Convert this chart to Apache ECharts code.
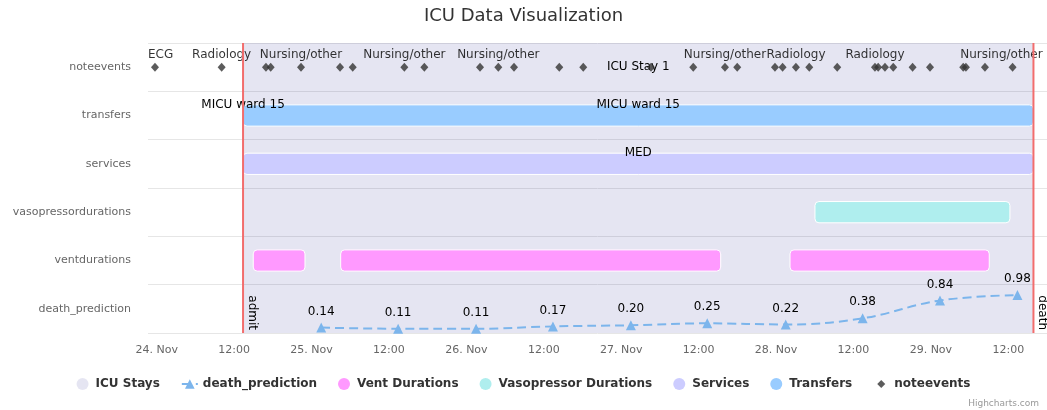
<!DOCTYPE html>
<html lang="en">
  <head>
    <meta charset="UTF-8" />
    <title>ICU Data Visualization</title>
    <script src="https://cdn.jsdelivr.net/npm/echarts@6/dist/echarts.min.js"></script>
    <style>
      html, body { margin: 0; padding: 0; background: #fff; }
      #main { width: 1047px; height: 410px; }
    </style>
  </head>
  <body>
    <div id="main"></div>
    <script>
      // rows of the chart, top to bottom
      var categories = ["noteevents", "transfers", "services", "vasopressordurations", "ventdurations", "death_prediction"];

      var admitTime = "2023-11-24 13:23";
      var deathTime = "2023-11-29 15:54";
      var plotLineTimes = [admitTime, deathTime];
      var plotLineLabels = ["admit", "death"];

      // [start, end, label]
      var icuStays = [[admitTime, deathTime, "ICU Stay 1"]];
      var transfers = [[admitTime, admitTime, "MICU ward 15"], [admitTime, deathTime, "MICU ward 15"]];
      var services = [[admitTime, deathTime, "MED"]];
      var vasoDurations = [["2023-11-28 06:02", "2023-11-29 12:15", ""]];
      var ventDurations = [
        ["2023-11-24 14:58", "2023-11-24 22:59", ""],
        ["2023-11-25 04:31", "2023-11-27 15:25", ""],
        ["2023-11-28 02:10", "2023-11-29 09:03", ""]
      ];

      var predTimes = ["2023-11-25 01:30", "2023-11-25 13:25", "2023-11-26 01:30", "2023-11-26 13:25", "2023-11-27 01:30",
        "2023-11-27 13:20", "2023-11-28 01:30", "2023-11-28 13:25", "2023-11-29 01:25", "2023-11-29 13:25"];
      var predValues = [0.14, 0.11, 0.11, 0.17, 0.20, 0.25, 0.22, 0.38, 0.84, 0.98];

      var noteTimes = ["2023-11-23 23:44", "2023-11-24 10:04", "2023-11-24 16:56", "2023-11-24 17:40", "2023-11-24 22:22",
        "2023-11-25 04:25", "2023-11-25 06:23", "2023-11-25 14:23", "2023-11-25 17:29", "2023-11-26 02:07",
        "2023-11-26 04:57", "2023-11-26 07:23", "2023-11-26 14:24", "2023-11-26 18:07", "2023-11-27 04:37",
        "2023-11-27 11:10", "2023-11-27 16:05", "2023-11-27 17:59", "2023-11-27 23:50", "2023-11-28 01:01",
        "2023-11-28 03:05", "2023-11-28 05:09", "2023-11-28 09:29", "2023-11-28 15:20", "2023-11-28 15:50",
        "2023-11-28 16:53", "2023-11-28 18:10", "2023-11-28 21:10", "2023-11-28 23:52", "2023-11-29 05:01",
        "2023-11-29 05:26", "2023-11-29 08:23", "2023-11-29 12:40"];
      var noteLabels = ["ECG", "Radiology", "", "", "Nursing/other",
        "", "", "Nursing/other", "", "",
        "Nursing/other", "", "", "", "",
        "", "Nursing/other", "", "", "",
        "Radiology", "", "", "Radiology", "",
        "", "", "", "", "",
        "", "", "Nursing/other"];

      var xTicks = ["2023-11-24 00:00", "2023-11-24 12:00", "2023-11-25 00:00", "2023-11-25 12:00", "2023-11-26 00:00",
        "2023-11-26 12:00", "2023-11-27 00:00", "2023-11-27 12:00", "2023-11-28 00:00", "2023-11-28 12:00",
        "2023-11-29 00:00", "2023-11-29 12:00"];
      var xMin = "2023-11-23 22:39";
      var xMax = "2023-11-29 18:00";

      var FONT = "DejaVu Sans";

      function ts(s) {
        return new Date(s.replace(" ", "T")).getTime();
      }

      var tickValues = xTicks.map(ts);

      function fmtTick(v) {
        var d = new Date(v);
        if (d.getHours() === 0) return d.getDate() + ". Nov";
        return (d.getHours() < 10 ? "0" : "") + d.getHours() + ":00";
      }

      function rangeData(rows, cat) {
        var idx = categories.indexOf(cat);
        return rows.map(function (r) {
          return [ts(r[0]), ts(r[1]), idx];
        });
      }

      // 画圆角条
      function barRenderer(rows) {
        return function (params, api) {
          var p0 = api.coord([api.value(0), api.value(2)]);
          var p1 = api.coord([api.value(1), api.value(2)]);
          var h = api.size([0, 1])[1] * 0.44;
          var children = [];
          if (p1[0] > p0[0]) {
            children.push({
              type: "rect",
              shape: { x: p0[0], y: p0[1] - h / 2, width: p1[0] - p0[0], height: h, r: 4 },
              style: { fill: api.visual("color"), stroke: "#fff", lineWidth: 1 }
            });
          }
          var text = rows[params.dataIndex][2];
          if (text) {
            children.push({
              type: "text",
              x: (p0[0] + p1[0]) / 2,
              y: p0[1] - h / 2,
              z2: 10,
              style: { text: text, align: "center", verticalAlign: "middle", fill: "#000", font: "12px " + FONT }
            });
          }
          return { type: "group", children: children };
        };
      }

      var noteData = noteTimes.map(function (t, i) {
        var item = { value: [ts(t), "noteevents"], name: noteLabels[i] };
        if (i === 0) item.label = { align: "left", offset: [-7, 0] };
        if (i === noteTimes.length - 1) item.label = { align: "right", offset: [30, 0] };
        return item;
      });

      var predData = predTimes.map(function (t, i) {
        return [ts(t), predValues[i]];
      });

      var myChart = echarts.init(document.getElementById("main"));
      var option = {
        animation: false,
        textStyle: { fontFamily: FONT },
        title: {
          text: "ICU Data Visualization",
          left: "center",
          top: 2,
          textStyle: { fontSize: 18, fontWeight: "normal", color: "#333", fontFamily: FONT }
        },
        legend: {
          bottom: 15,
          left: "center",
          itemWidth: 16,
          itemHeight: 12,
          itemGap: 21,
          textStyle: { fontSize: 12, fontWeight: "bold", color: "#333", fontFamily: FONT },
          data: [
            { name: "ICU Stays", icon: "circle" },
            { name: "death_prediction" },
            { name: "Vent Durations", icon: "circle" },
            { name: "Vasopressor Durations", icon: "circle" },
            { name: "Services", icon: "circle" },
            { name: "Transfers", icon: "circle" },
            // 小菱形，后两段只是撑开边框
            { name: "noteevents", icon: "path://M8,2L12,6L8,10L4,6Z M0,0L0,0 M16,12L16,12" }
          ]
        },
        graphic: [
          {
            type: "text",
            right: 8,
            bottom: 2,
            style: { text: "Highcharts.com", fontSize: 9, fill: "#999", fontFamily: FONT }
          }
        ],
        grid: [
          { left: 148, right: 0, top: 43, height: 290 },
          { left: 148, right: 0, top: 285, height: 48 }
        ],
        xAxis: [
          {
            type: "value",
            gridIndex: 0,
            min: ts(xMin),
            max: ts(xMax),
            axisLine: { lineStyle: { color: "#ccd6eb" } },
            axisTick: { length: 10, lineStyle: { color: "#ccd6eb" }, customValues: tickValues },
            axisLabel: { color: "#666", fontSize: 11, margin: 12, customValues: tickValues, formatter: fmtTick },
            splitLine: { show: false }
          },
          { type: "value", gridIndex: 1, min: ts(xMin), max: ts(xMax), show: false }
        ],
        yAxis: [
          {
            type: "category",
            gridIndex: 0,
            inverse: true,
            data: categories,
            axisLine: { show: false },
            axisTick: { show: false },
            axisLabel: { color: "#666", fontSize: 11, margin: 17 },
            splitLine: { show: true, lineStyle: { color: "#e6e6e6" } }
          },
          { type: "value", gridIndex: 1, min: 0, max: 1.24, show: false }
        ],
        series: [
          {
            name: "ICU Stays",
            type: "custom",
            z: 1,
            itemStyle: { color: "rgba(0,0,128,0.1)" },
            encode: { x: [0, 1], y: 2 },
            data: rangeData(icuStays, "noteevents"),
            renderItem: function (params, api) {
              var p0 = api.coord([api.value(0), 0]);
              var p1 = api.coord([api.value(1), 0]);
              var cs = params.coordSys;
              return {
                type: "group",
                children: [
                  { type: "rect", shape: { x: p0[0], y: cs.y, width: p1[0] - p0[0], height: cs.height }, style: { fill: api.visual("color") } },
                  {
                    type: "text",
                    x: (p0[0] + p1[0]) / 2,
                    y: p0[1],
                    style: { text: icuStays[params.dataIndex][2], align: "center", verticalAlign: "middle", fill: "#000", font: "12px " + FONT }
                  }
                ]
              };
            }
          },
          {
            name: "death_prediction",
            type: "line",
            xAxisIndex: 1,
            yAxisIndex: 1,
            z: 4,
            smooth: 0.4,
            symbol: "triangle",
            symbolSize: 10,
            color: "#7cb5ec",
            lineStyle: { width: 2, type: [9, 5], color: "#7cb5ec" },
            itemStyle: { color: "#7cb5ec" },
            label: {
              show: true,
              position: "top",
              distance: 5,
              color: "#000",
              fontSize: 12,
              fontFamily: FONT,
              formatter: function (p) { return p.value[1].toFixed(2); }
            },
            data: predData
          },
          {
            name: "Vent Durations",
            type: "custom",
            z: 2,
            itemStyle: { color: "#ff99ff" },
            encode: { x: [0, 1], y: 2 },
            data: rangeData(ventDurations, "ventdurations"),
            renderItem: barRenderer(ventDurations)
          },
          {
            name: "Vasopressor Durations",
            type: "custom",
            z: 2,
            itemStyle: { color: "#afeeee" },
            encode: { x: [0, 1], y: 2 },
            data: rangeData(vasoDurations, "vasopressordurations"),
            renderItem: barRenderer(vasoDurations)
          },
          {
            name: "Services",
            type: "custom",
            z: 2,
            itemStyle: { color: "#ccccff" },
            encode: { x: [0, 1], y: 2 },
            data: rangeData(services, "services"),
            renderItem: barRenderer(services)
          },
          {
            name: "Transfers",
            type: "custom",
            z: 2,
            itemStyle: { color: "#99ccff" },
            encode: { x: [0, 1], y: 2 },
            data: rangeData(transfers, "transfers"),
            renderItem: barRenderer(transfers)
          },
          {
            name: "noteevents",
            type: "scatter",
            z: 5,
            symbol: "diamond",
            symbolSize: [8, 9],
            itemStyle: { color: "#333" },
            label: {
              show: true,
              position: "top",
              distance: 2,
              color: "#000",
              fontSize: 12,
              fontFamily: FONT,
              formatter: "{b}"
            },
            data: noteData
          },
          {
            name: "plotLines",
            type: "custom",
            z: 6,
            silent: true,
            encode: { x: 0 },
            data: plotLineTimes.map(function (t) { return [ts(t)]; }),
            renderItem: function (params, api) {
              var x = api.coord([api.value(0), 0])[0];
              var cs = params.coordSys;
              return {
                type: "group",
                children: [
                  { type: "line", shape: { x1: x, y1: cs.y, x2: x, y2: cs.y + cs.height }, style: { stroke: "#f26d6d", lineWidth: 2 } },
                  {
                    type: "text",
                    x: x + 3,
                    y: cs.y + cs.height - 3,
                    rotation: -Math.PI / 2,
                    style: { text: plotLineLabels[params.dataIndex], align: "right", verticalAlign: "bottom", fill: "#000", font: "12px " + FONT }
                  }
                ]
              };
            }
          }
        ]
      };
      myChart.setOption(option);
    </script>
  </body>
</html>
